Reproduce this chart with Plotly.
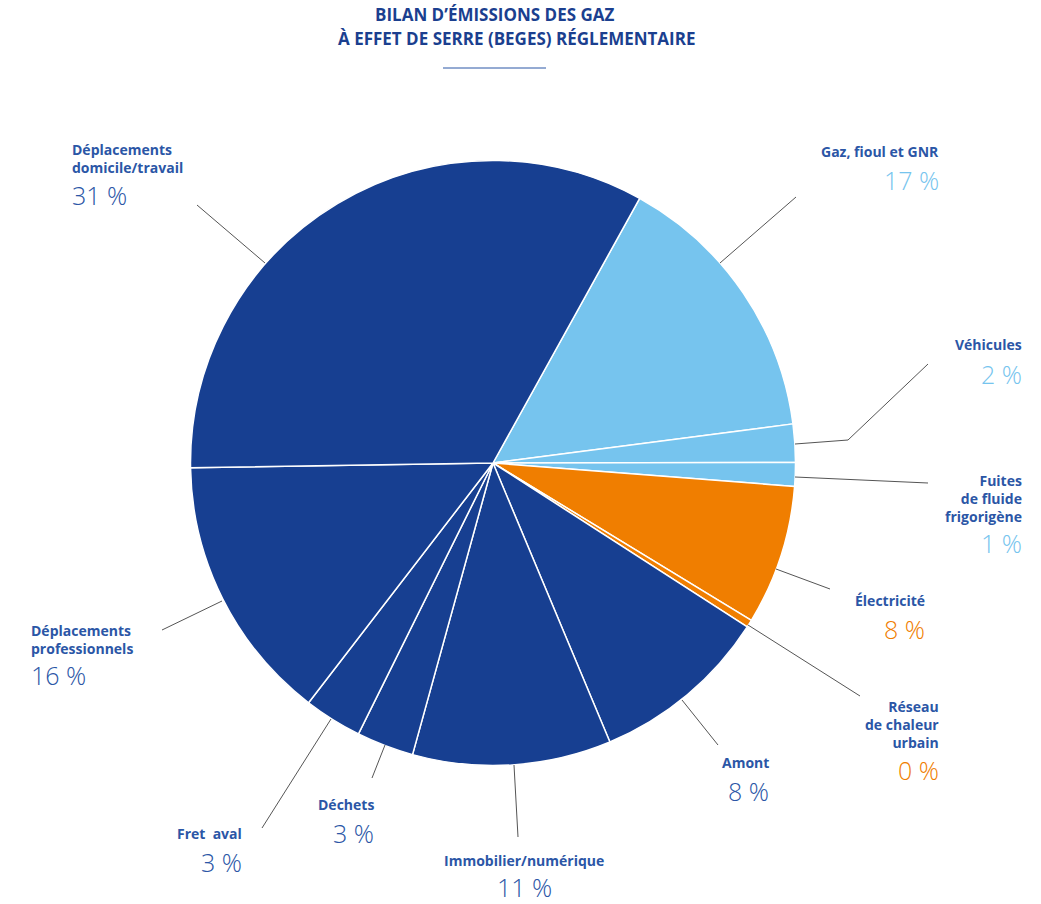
import plotly.graph_objects as go

# ---------------- data ----------------
categories = ["Gaz, fioul et GNR", "Véhicules", "Fuites de fluide frigorigène", "Électricité",
              "Réseau de chaleur urbain", "Amont", "Immobilier/numérique", "Déchets",
              "Fret aval", "Déplacements professionnels", "Déplacements domicile/travail"]
values = [14.88, 2.04, 1.26, 7.47, 0.41, 9.57, 10.60, 3.05, 3.10, 14.31, 33.31]
pct_labels = ["17 %", "2 %", "1 %", "8 %", "0 %", "8 %", "11 %", "3 %", "3 %", "16 %", "31 %"]
groups = ["light", "light", "light", "orange", "orange", "dark", "dark", "dark", "dark", "dark", "dark"]
name_lines = ["Gaz, fioul et GNR", "Véhicules", "Fuites<br>de fluide<br>frigorigène", "Électricité",
              "Réseau<br>de chaleur<br>urbain", "Amont", "Immobilier/numérique", "Déchets",
              "Fret  aval", "Déplacements<br>professionnels", "Déplacements<br>domicile/travail"]
title_lines = ["BILAN D’ÉMISSIONS DES GAZ", "À EFFET DE SERRE (BEGES) RÉGLEMENTAIRE"]

# ---------------- styles / layout ----------------
W, H = 1041, 904
CX, CY, R = 493, 463, 302.5
slice_colors = {"dark": "#173f91", "light": "#76c4ee", "orange": "#f07e00"}
pct_colors = {"dark": "#2b56a6", "light": "#76c4ee", "orange": "#f07e00"}
name_color = "#2b56a6"
title_color = "#1b3f8f"
FONT = "Open Sans"

# label placement (pixels): anchor, x, name center y, pct center y
label_pos = [
    ("right", 941, 151, 180),
    ("right", 1024, 345, 374),
    ("right", 1024, 498, 543),
    ("right", 927, 600, 629),
    ("right", 941, 724, 770),
    ("right", 771, 762, 791),
    ("center", 524, 860, 887),
    ("right", 376, 804, 833),
    ("right", 244, 833, 862),
    ("left", 29, 639, 675),
    ("left", 70, 158, 195),
]
title_pos = [(494, 15), (516, 38)]
# leader lines (pixels)
leaders = [
    [(720, 263), (796, 197)],
    [(795, 444), (848, 440), (928, 364)],
    [(795, 477), (928, 483)],
    [(776, 569), (830, 589)],
    [(748, 625), (860, 696)],
    [(682, 700), (718, 745)],
    [(514, 765), (518, 837)],
    [(385, 745), (372, 778)],
    [(331, 719), (262, 828)],
    [(222, 601), (162, 630)],
    [(265, 263), (197, 205)],
]

def px(x):
    return x / W

def py(y):
    return 1 - y / H

fig = go.Figure(go.Pie(
    labels=categories,
    values=values,
    sort=False,
    direction="clockwise",
    rotation=29,
    marker=dict(colors=[slice_colors[g] for g in groups], line=dict(color="white", width=1.5)),
    textinfo="none",
    hoverinfo="label+percent",
    showlegend=False,
    domain=dict(x=[px(CX - R), px(CX + R)], y=[py(CY + R), py(CY - R)]),
))

annotations = []
for i in range(len(categories)):
    anchor, x, ny, pyy = label_pos[i]
    annotations.append(dict(
        x=px(x), y=py(ny), xref="paper", yref="paper", xanchor=anchor, yanchor="middle",
        text=name_lines[i], showarrow=False, align=anchor,
        font=dict(family=FONT, size=14, color=name_color, weight=700),
    ))
    annotations.append(dict(
        x=px(x), y=py(pyy), xref="paper", yref="paper", xanchor=anchor, yanchor="middle",
        text=pct_labels[i], showarrow=False, align=anchor,
        font=dict(family=FONT, size=25, color=pct_colors[groups[i]], weight=300),
    ))

for t, (tx, ty) in zip(title_lines, title_pos):
    annotations.append(dict(
        x=px(tx), y=py(ty), xref="paper", yref="paper", xanchor="center", yanchor="middle",
        text=t, showarrow=False, align="center",
        font=dict(family=FONT, size=17, color=title_color, weight=700),
    ))

shapes = []
for pts in leaders:
    path = "M " + " L ".join(f"{px(x)},{py(y)}" for x, y in pts)
    shapes.append(dict(type="path", path=path, xref="paper", yref="paper",
                       line=dict(color="#555555", width=1)))
shapes.append(dict(type="line", xref="paper", yref="paper", x0=px(443), x1=px(546),
                   y0=py(68), y1=py(68), line=dict(color="#2b56a6", width=1)))

fig.update_layout(
    width=W, height=H, autosize=False,
    margin=dict(l=0, r=0, t=0, b=0),
    paper_bgcolor="white", plot_bgcolor="white",
    annotations=annotations, shapes=shapes,
)

fig.write_html("out.html")
